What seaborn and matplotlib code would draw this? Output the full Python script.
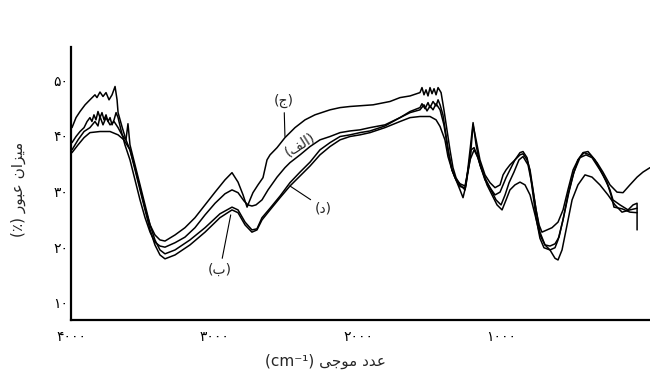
import numpy as np
import pandas as pd
import matplotlib
matplotlib.use('Agg')
import matplotlib.pyplot as plt
import seaborn as sns

# FTIR spectra: wavenumber (cm-1) and transmittance (%)
wn_alef = [3993, 3965, 3937, 3909, 3888, 3868, 3854, 3840, 3826, 3812,
           3798, 3784, 3770, 3756, 3742, 3728, 3714, 3700, 3686, 3672,
           3652, 3624, 3589, 3554, 3519, 3484, 3449, 3415, 3380, 3345,
           3275, 3206, 3136, 3066, 2996, 2927, 2878, 2836, 2794, 2767,
           2739, 2711, 2669, 2627, 2564, 2509, 2474, 2404, 2334, 2265,
           2195, 2125, 2056, 1986, 1916, 1812, 1707, 1637, 1568, 1554,
           1533, 1512, 1498, 1477, 1456, 1442, 1428, 1408, 1387, 1366,
           1345, 1317, 1289, 1268, 1247, 1219, 1198, 1177, 1150, 1115,
           1080, 1045, 1010, 989, 968, 941, 906, 871, 850, 822,
           801, 780, 759, 732, 704, 662, 627, 606, 571, 537,
           501, 467, 432, 397, 348, 293, 244, 223, 174, 118,
           83, 55, 55]
tr_alef = [38.8, 39.9, 40.8, 41.5, 42.6, 43.3, 42.6, 43.8, 42.9, 44.4,
           43.3, 44.2, 42.9, 43.8, 42.6, 43.3, 42.0, 42.9, 44.2, 43.3,
           41.1, 38.4, 35.7, 32.1, 28.5, 25.3, 22.7, 20.9, 20.2, 20.0,
           20.8, 21.8, 23.5, 25.8, 27.9, 29.6, 30.3, 29.8, 28.3, 27.6,
           27.4, 27.6, 28.5, 30.3, 32.6, 34.3, 35.2, 36.6, 38.1, 39.3,
           39.9, 40.6, 40.9, 41.1, 41.5, 42.0, 43.3, 44.4, 45.1, 45.8,
           44.9, 46.0, 45.1, 46.2, 45.4, 46.5, 45.6, 43.8, 40.2, 36.6,
           33.9, 32.1, 30.3, 28.9, 31.2, 37.5, 42.4, 38.4, 34.8, 32.1,
           30.7, 29.4, 29.9, 31.2, 32.5, 33.9, 35.7, 37.0, 37.2, 36.1,
           33.5, 29.4, 25.3, 21.6, 19.9, 19.5, 19.9, 21.3, 24.9, 29.4,
           33.0, 35.7, 37.0, 37.2, 35.7, 33.0, 30.3, 28.5, 27.6, 26.7,
           27.6, 27.9, 23.1]

wn_be = [3993, 3951, 3909, 3868, 3833, 3812, 3798, 3777, 3756, 3728,
         3700, 3672, 3645, 3617, 3603, 3589, 3554, 3519, 3484, 3449,
         3415, 3380, 3345, 3275, 3171, 3066, 2962, 2878, 2836, 2787,
         2739, 2704, 2669, 2613, 2543, 2474, 2404, 2334, 2265, 2195,
         2125, 2056, 1986, 1916, 1812, 1707, 1637, 1568, 1540, 1519,
         1498, 1477, 1456, 1428, 1401, 1373, 1345, 1317, 1289, 1254,
         1233, 1212, 1191, 1171, 1143, 1108, 1073, 1038, 1003, 975,
         947, 913, 878, 850, 815, 787, 759, 732, 697, 662,
         627, 599, 564, 530, 495, 453, 411, 369, 314, 265,
         237, 216, 160, 105, 55]
tr_be = [37.5, 39.3, 40.8, 41.5, 42.6, 41.8, 43.5, 42.0, 43.3, 42.0,
         42.6, 41.5, 40.2, 39.3, 42.2, 38.4, 34.8, 31.2, 27.6, 24.0,
         21.3, 19.5, 18.8, 19.5, 21.3, 23.5, 26.0, 27.2, 26.7, 24.5,
         23.1, 23.3, 25.3, 27.0, 29.2, 31.6, 33.5, 35.3, 37.5, 38.8,
         39.9, 40.2, 40.6, 40.9, 41.8, 43.3, 44.2, 44.7, 45.6, 44.5,
         45.4, 44.7, 45.8, 44.7, 42.0, 37.5, 33.9, 32.1, 30.9, 30.7,
         33.9, 37.5, 37.9, 36.6, 34.3, 32.1, 30.3, 28.5, 27.6, 29.4,
         31.6, 33.5, 35.7, 36.3, 34.8, 31.2, 26.7, 22.7, 20.4, 20.2,
         20.6, 21.8, 25.8, 29.9, 33.5, 36.1, 36.6, 36.1, 33.9, 31.7,
         29.4, 27.2, 26.9, 26.3, 26.2]

wn_jim = [3993, 3965, 3937, 3902, 3868, 3833, 3819, 3798, 3777, 3756,
          3735, 3714, 3693, 3679, 3672, 3645, 3617, 3589, 3554, 3519,
          3484, 3449, 3415, 3380, 3345, 3275, 3206, 3136, 3066, 2996,
          2927, 2878, 2836, 2801, 2773, 2753, 2732, 2697, 2662, 2634,
          2613, 2564, 2509, 2439, 2369, 2300, 2195, 2125, 2056, 1895,
          1777, 1707, 1637, 1568, 1554, 1540, 1526, 1512, 1498, 1484,
          1470, 1456, 1442, 1421, 1401, 1380, 1359, 1338, 1317, 1289,
          1254, 1219, 1198, 1177, 1150, 1115, 1080, 1045, 1010, 989,
          968, 941, 906, 871, 850, 822, 801, 780, 759, 738,
          718, 683, 648, 606, 571, 537, 501, 467, 425, 383,
          334, 293, 244, 195, 153, 105, 55, 14, -35]
tr_jim = [41.5, 43.3, 44.4, 45.6, 46.5, 47.4, 46.9, 47.9, 47.1, 47.8,
          46.5, 47.4, 48.9, 46.5, 44.2, 41.7, 39.3, 37.5, 34.3, 30.7,
          27.0, 24.0, 22.2, 21.3, 21.1, 22.2, 23.5, 25.3, 27.6, 29.9,
          32.1, 33.4, 31.7, 29.4, 27.2, 28.5, 29.8, 31.2, 32.5, 35.7,
          36.6, 37.9, 39.7, 41.5, 42.9, 43.8, 44.7, 45.1, 45.3, 45.6,
          46.2, 46.9, 47.2, 47.8, 48.7, 47.4, 48.3, 47.2, 48.7, 47.6,
          48.5, 47.4, 48.7, 47.8, 44.7, 41.1, 37.5, 34.3, 32.5, 31.2,
          30.3, 35.7, 42.0, 39.3, 35.7, 33.0, 31.6, 30.7, 31.2, 33.0,
          33.9, 34.8, 35.7, 36.6, 36.8, 35.7, 33.9, 30.3, 26.7, 24.0,
          22.7, 23.1, 23.5, 24.5, 26.7, 30.3, 33.9, 35.7, 37.0, 36.6,
          35.2, 33.5, 31.2, 29.9, 29.8, 31.2, 32.6, 33.5, 34.3]

wn_dal = [3993, 3951, 3909, 3868, 3798, 3728, 3672, 3631, 3589, 3554,
          3519, 3484, 3449, 3415, 3380, 3345, 3275, 3171, 3066, 2962,
          2878, 2836, 2787, 2739, 2704, 2669, 2613, 2543, 2474, 2404,
          2334, 2265, 2195, 2125, 2056, 1986, 1916, 1812, 1707, 1637,
          1568, 1498, 1456, 1428, 1394, 1373, 1345, 1324, 1289, 1254,
          1219, 1191, 1164, 1136, 1101, 1066, 1031, 996, 968, 941,
          906, 871, 836, 801, 766, 732, 697, 662, 627, 606,
          578, 543, 508, 467, 418, 369, 314, 258, 209, 160,
          105, 55]
tr_dal = [37.0, 38.4, 39.7, 40.6, 40.8, 40.8, 40.2, 39.3, 37.5, 33.9,
          30.3, 26.7, 23.1, 20.4, 18.6, 17.9, 18.6, 20.4, 22.7, 25.3,
          26.7, 26.2, 24.0, 22.7, 23.1, 24.9, 26.7, 28.9, 31.0, 32.8,
          34.6, 36.6, 38.1, 39.3, 39.9, 40.2, 40.6, 41.5, 42.6, 43.3,
          43.5, 43.5, 42.9, 41.7, 39.3, 36.3, 33.9, 32.5, 31.4, 31.0,
          35.7, 37.5, 36.1, 33.9, 31.2, 29.4, 27.6, 26.7, 28.5, 30.3,
          31.2, 31.7, 31.2, 29.4, 25.8, 22.2, 20.4, 19.5, 18.0, 17.7,
          19.5, 24.0, 28.5, 31.2, 33.0, 32.6, 31.2, 29.4, 27.6, 26.3,
          26.7, 27.0]

samples = ['الف', 'ب', 'ج', 'د']
x_ticks = [4000, 3000, 2000, 1000]
y_ticks = [10, 20, 30, 40, 50]
y_title = 'میزان عبور (٪)'
x_title = 'عدد موجی'

# matplotlib has no arabic shaping, so join the letters by hand
FORMS = {
    'ا': ('\uFE8D', '\uFE8E'),
    'ب': ('\uFE8F', '\uFE90', '\uFE91', '\uFE92'),
    'ج': ('\uFE9D', '\uFE9E', '\uFE9F', '\uFEA0'),
    'د': ('\uFEA9', '\uFEAA'),
    'ر': ('\uFEAD', '\uFEAE'),
    'ز': ('\uFEAF', '\uFEB0'),
    'ع': ('\uFEC9', '\uFECA', '\uFECB', '\uFECC'),
    'ف': ('\uFED1', '\uFED2', '\uFED3', '\uFED4'),
    'ل': ('\uFEDD', '\uFEDE', '\uFEDF', '\uFEE0'),
    'م': ('\uFEE1', '\uFEE2', '\uFEE3', '\uFEE4'),
    'ن': ('\uFEE5', '\uFEE6', '\uFEE7', '\uFEE8'),
    'و': ('\uFEED', '\uFEEE'),
    'ی': ('\uFEEF', '\uFEF0', '\uFEF3', '\uFEF4'),
}


def shape(text):
    out = []
    for i, ch in enumerate(text):
        forms = FORMS.get(ch)
        if forms is None:
            out.append(ch)
            continue
        prev = text[i - 1] if i > 0 else None
        nxt = text[i + 1] if i + 1 < len(text) else None
        join_prev = prev in FORMS and len(FORMS[prev]) == 4
        join_next = len(forms) == 4 and nxt in FORMS
        if join_prev and join_next:
            out.append(forms[3])
        elif join_prev:
            out.append(forms[1])
        elif join_next:
            out.append(forms[2])
        else:
            out.append(forms[0])
    vis = ''.join(reversed(out))
    return vis.translate(str.maketrans('()', ')('))


def fa_num(n):
    return str(n).translate(str.maketrans('0123456789', '۰۱۲۳۴۵۶۷۸۹'))


frames = []
for name, wn, tr in zip(samples, [wn_alef, wn_be, wn_jim, wn_dal],
                        [tr_alef, tr_be, tr_jim, tr_dal]):
    frames.append(pd.DataFrame({'wn': wn, 'tr': tr, 'sample': name}))
df = pd.concat(frames, ignore_index=True)

sns.set_style('white')
plt.rcParams['font.family'] = ['DejaVu Sans']

fig = plt.figure(figsize=(6.5, 3.78), dpi=100)
ax = fig.add_axes([71 / 650, 58 / 378, 579 / 650, 273 / 378])

sns.lineplot(data=df, x='wn', y='tr', hue='sample', units='sample',
             estimator=None, sort=False, palette=['black'] * 4,
             legend=False, linewidth=1.1, ax=ax)

ax.set_xlim(4000, -35)
ax.set_ylim(6.9, 56)
ax.set_xticks(x_ticks)
ax.set_xticklabels([fa_num(t) for t in x_ticks], fontsize=10)
ax.set_yticks(y_ticks)
ax.set_yticklabels([fa_num(t) for t in y_ticks], fontsize=10)
ax.tick_params(axis='both', direction='in', length=5, width=1.3,
               colors='black')
ax.tick_params(axis='x', pad=7)
ax.tick_params(axis='y', pad=2)
sns.despine(ax=ax)
for side in ['left', 'bottom']:
    ax.spines[side].set_linewidth(1.6)
    ax.spines[side].set_color('black')

ax.set_xlabel('(cm\u207b\u00b9) ' + shape(x_title), fontsize=11)
ax.xaxis.set_label_coords(0.44, -0.125)
ax.set_ylabel(shape(y_title), fontsize=11)
ax.yaxis.set_label_coords(-0.078, 0.48)

# sample labels with leader lines
arrow = dict(arrowstyle='-', color='black', lw=0.8, shrinkA=1, shrinkB=0)
ax.annotate(shape('(ج)'), xy=(2509, 39.9), xytext=(2516, 46.3),
            ha='center', va='center', fontsize=10, arrowprops=arrow)
ax.annotate(shape('(ب)'), xy=(2887, 25.8), xytext=(2962, 15.9),
            ha='center', va='center', fontsize=10, arrowprops=arrow)
ax.annotate(shape('(د)'), xy=(2474, 31.0), xytext=(2240, 27.0),
            ha='center', va='center', fontsize=10, arrowprops=arrow)
ax.text(2404, 38.4, shape('(الف)'), ha='center', va='center',
        fontsize=10, rotation=32)

plt.savefig('out.png', dpi=100)
